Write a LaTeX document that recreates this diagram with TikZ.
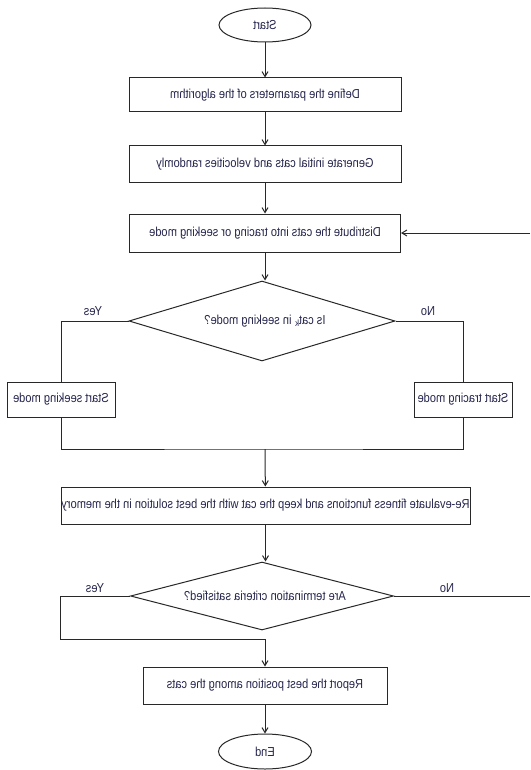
\documentclass[tikz,border=0pt]{standalone}
\usepackage{fontspec}
\setmainfont{Liberation Sans}[FakeStretch=0.855]
\usepackage{graphicx}
\usetikzlibrary{shapes.geometric,arrows.meta}
\definecolor{txt}{RGB}{38,38,78}
\definecolor{ln}{RGB}{40,40,40}
\newcommand\mirr[1]{\reflectbox{#1}}
\begin{document}
\begin{tikzpicture}[x=1pt,y=-1pt,
  every node/.style={text=txt, font=\fontsize{13}{15}\selectfont},
  boxnode/.style={draw=ln, line width=1pt, rectangle, inner sep=0pt},
  ovalnode/.style={draw=ln, line width=1pt, ellipse, inner sep=0pt},
  decnode/.style={draw=ln, line width=1pt, diamond, inner sep=0pt},
  conn/.style={draw=ln, line width=1pt},
  arr/.style={conn, -{Straight Barb[length=5pt,width=6pt]}}
]
\path[use as bounding box, fill=white] (0,0) rectangle (530,770);

\node[ovalnode, minimum width=92pt, minimum height=34pt] (start) at (265,25) {\mirr{Start}};
\node[boxnode, minimum width=272pt, minimum height=34pt] (b1) at (265,95) {\mirr{Define the parameters of the algorithm}};
\node[boxnode, minimum width=272pt, minimum height=36pt] (b2) at (265,164) {\mirr{Generate initial cats and velocities randomly}};
\node[boxnode, minimum width=271pt, minimum height=38pt] (b3) at (265,233) {\mirr{Distribute the cats into tracing or seeking mode}};

\node[decnode, minimum width=266pt, minimum height=80pt] (d1) at (262,321) {};
\node (d1t) at (265,321) {\mirr{Is cat\textsubscript{k} in seeking mode?}};
\node (y1) at (93,311) {\mirr{Yes}};
\node (n1) at (428,311) {\mirr{No}};

\node[boxnode, minimum width=108pt, minimum height=35pt] (seek) at (61,399.5) {\mirr{Start seeking mode}};
\node[boxnode, minimum width=98pt, minimum height=35pt] (trace) at (463,399.5) {\mirr{Start tracing mode}};
\coordinate (m1) at (265,449);

\node[boxnode, minimum width=409pt, minimum height=37pt] (b4) at (265.5,505.5) {\mirr{Re-evaluate fitness functions and keep the cat with the best solution in the memory}};

\node[decnode, minimum width=263pt, minimum height=68pt] (d2) at (262,596) {};
\node (d2t) at (265,596) {\mirr{Are termination criteria satisfied?}};
\node (y2) at (95,588) {\mirr{Yes}};
\node (n2) at (447,588) {\mirr{No}};
\coordinate (r2) at (530,596);
\coordinate (r1) at (530,233);
\coordinate (c2) at (60,639);
\coordinate (m2) at (265,639);

\node[boxnode, minimum width=244pt, minimum height=37pt] (b5) at (265,685.5) {\mirr{Report the best position among the cats}};
\node[ovalnode, minimum width=93pt, minimum height=35pt] (end) at (265,751.5) {\mirr{End}};

\draw[arr] (start) -- (b1);
\draw[arr] (b1) -- (b2);
\draw[arr] (b2) -- (b3);
\draw[arr] (b3) -- (b3.south |- d1.north);
\draw[conn] (d1.west) -| (seek.north);
\draw[conn] (d1.east) -| (trace.north);
\draw[conn] (seek.south) |- (m1) -| (trace.south);
\draw[arr] (m1) -- (b4);
\draw[arr] (b4) -- (b4.south |- d2.north);
\draw[conn] (d2.east) -- (r2);
\draw[arr] (r1) -- (b3.east);
\draw[conn] (d2.west) -| (c2) -- (m2);
\draw[arr] (m2) -- (b5);
\draw[arr] (b5) -- (end);
\end{tikzpicture}
\end{document}
